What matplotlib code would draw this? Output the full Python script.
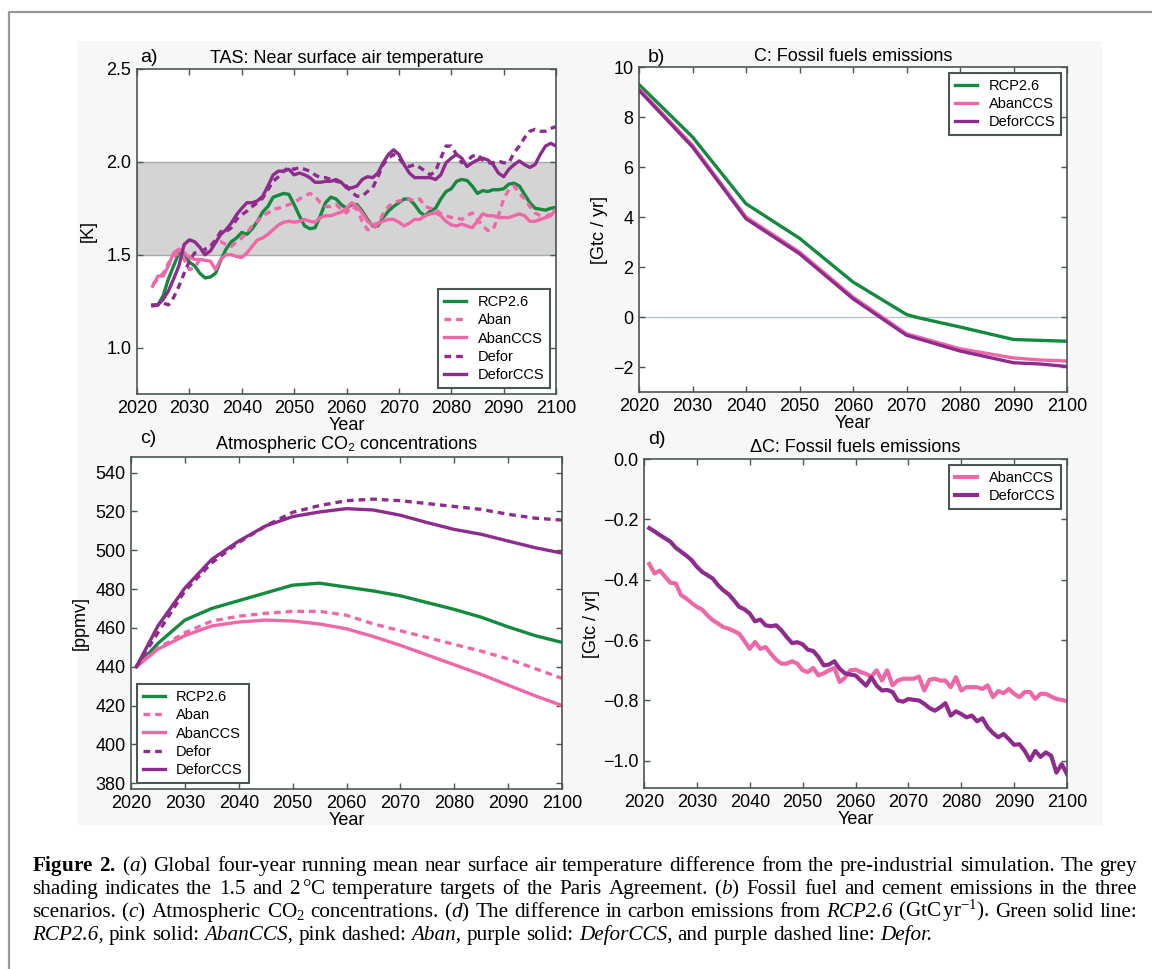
import matplotlib
matplotlib.use("Agg")
import matplotlib.pyplot as plt
from matplotlib.lines import Line2D
from matplotlib.patches import Rectangle

plt.rcParams["font.family"] = ["Liberation Sans", "DejaVu Sans"]
plt.rcParams["mathtext.fontset"] = "custom"
plt.rcParams["mathtext.rm"] = "Liberation Serif"
plt.rcParams["mathtext.it"] = "Liberation Serif:italic"
plt.rcParams["mathtext.bf"] = "Liberation Serif:bold"

W, H = 1152, 969
GREEN = "#138a3e"
PINK = "#f067a8"
PURPLE = "#8e2c8e"
SPINE = "#4a5656"

# ---- a) near surface air temperature, 4-yr running mean [K]
YEARS_A = list(range(2023, 2101))
RCP_A = [1.23, 1.23, 1.28, 1.37, 1.44, 1.51, 1.51, 1.46, 1.44, 1.40,
         1.375, 1.38, 1.40, 1.47, 1.53, 1.57, 1.59, 1.62, 1.61, 1.64,
         1.68, 1.73, 1.76, 1.81, 1.82, 1.83, 1.825, 1.77, 1.71, 1.655,
         1.64, 1.645, 1.71, 1.78, 1.81, 1.80, 1.77, 1.75, 1.77, 1.77,
         1.735, 1.69, 1.655, 1.655, 1.70, 1.735, 1.76, 1.78, 1.80, 1.80,
         1.77, 1.73, 1.71, 1.735, 1.75, 1.80, 1.84, 1.855, 1.895, 1.905,
         1.90, 1.87, 1.83, 1.845, 1.84, 1.85, 1.85, 1.855, 1.88, 1.885,
         1.87, 1.825, 1.78, 1.75, 1.745, 1.74, 1.75, 1.755]
ABAN_A = [1.34, 1.37, 1.40, 1.455, 1.49, 1.51, 1.475, 1.42, 1.43, 1.475,
          1.51, 1.545, 1.57, 1.57, 1.555, 1.545, 1.57, 1.59, 1.62, 1.655,
          1.68, 1.71, 1.725, 1.745, 1.75, 1.76, 1.77, 1.78, 1.80, 1.815,
          1.83, 1.815, 1.78, 1.76, 1.76, 1.77, 1.745, 1.725, 1.76, 1.745,
          1.68, 1.635, 1.635, 1.665, 1.72, 1.76, 1.78, 1.79, 1.79, 1.80,
          1.79, 1.80, 1.76, 1.75, 1.745, 1.72, 1.71, 1.70, 1.70, 1.69,
          1.71, 1.725, 1.69, 1.655, 1.63, 1.635, 1.71, 1.80, 1.85, 1.87,
          1.83, 1.80, 1.76, 1.725, 1.71, 1.70, 1.725, 1.735]
ABANCCS_A = [1.33, 1.385, 1.385, 1.44, 1.51, 1.53, 1.51, 1.485, 1.475, 1.475,
             1.47, 1.465, 1.42, 1.475, 1.50, 1.50, 1.49, 1.485, 1.51, 1.545,
             1.58, 1.59, 1.61, 1.635, 1.66, 1.675, 1.68, 1.675, 1.68, 1.69,
             1.68, 1.675, 1.70, 1.71, 1.71, 1.72, 1.73, 1.75, 1.78, 1.76,
             1.725, 1.68, 1.66, 1.67, 1.68, 1.69, 1.69, 1.675, 1.655, 1.67,
             1.69, 1.69, 1.71, 1.72, 1.725, 1.71, 1.68, 1.66, 1.655, 1.665,
             1.655, 1.645, 1.68, 1.72, 1.71, 1.71, 1.70, 1.70, 1.70, 1.71,
             1.72, 1.71, 1.68, 1.68, 1.69, 1.70, 1.71, 1.745]
DEFOR_A = [1.225, 1.23, 1.24, 1.23, 1.27, 1.33, 1.40, 1.465, 1.51, 1.51,
           1.53, 1.545, 1.58, 1.625, 1.625, 1.645, 1.69, 1.715, 1.735, 1.76,
           1.78, 1.805, 1.85, 1.895, 1.92, 1.95, 1.97, 1.96, 1.97, 1.96,
           1.95, 1.93, 1.915, 1.915, 1.905, 1.895, 1.89, 1.87, 1.835, 1.815,
           1.815, 1.84, 1.86, 1.92, 1.985, 2.02, 2.04, 2.02, 1.985, 1.975,
           1.985, 1.97, 1.95, 1.93, 1.95, 2.02, 2.085, 2.085, 2.04, 1.995,
           2.005, 2.03, 2.04, 2.01, 1.995, 1.995, 2.005, 1.995, 1.995, 2.05,
           2.085, 2.13, 2.165, 2.175, 2.165, 2.165, 2.18, 2.19]
DEFORCCS_A = [1.225, 1.23, 1.26, 1.305, 1.37, 1.44, 1.555, 1.58, 1.57, 1.54,
              1.50, 1.52, 1.565, 1.61, 1.635, 1.67, 1.715, 1.75, 1.78, 1.78,
              1.79, 1.815, 1.87, 1.93, 1.95, 1.95, 1.96, 1.93, 1.94, 1.93,
              1.915, 1.89, 1.89, 1.895, 1.895, 1.905, 1.89, 1.86, 1.86, 1.87,
              1.905, 1.92, 1.915, 1.94, 1.995, 2.04, 2.065, 2.04, 1.985, 1.94,
              1.915, 1.915, 1.915, 1.915, 1.905, 1.93, 1.995, 2.02, 2.04, 2.02,
              1.975, 1.995, 2.01, 2.02, 2.01, 1.985, 1.94, 1.92, 1.96, 1.985,
              2.005, 1.985, 1.97, 1.985, 2.04, 2.085, 2.10, 2.085]

# ---- b) fossil fuel emissions [GtC/yr]
YEARS_B_RCP = [2020, 2030, 2040, 2050, 2060, 2070, 2072, 2080, 2090, 2100]
RCP_B = [9.3, 7.2, 4.53, 3.15, 1.4, 0.1, -0.02, -0.4, -0.9, -0.97]
YEARS_B = [2020, 2030, 2040, 2050, 2060, 2070, 2080, 2090, 2095, 2100]
ABANCCS_B = [9.13, 6.87, 4.0, 2.6, 0.8, -0.67, -1.27, -1.64, -1.72, -1.76]
DEFORCCS_B = [9.07, 6.8, 3.93, 2.53, 0.73, -0.73, -1.36, -1.83, -1.88, -1.98]

# ---- c) atmospheric CO2 [ppmv]
YEARS_C = [2021, 2025, 2030, 2035, 2040, 2045, 2050, 2055, 2060, 2065, 2070,
           2075, 2080, 2085, 2090, 2095, 2100]
RCP_C = [440, 452, 464, 470, 474, 478, 482, 483, 481, 479, 476.5, 473,
         469.5, 465.5, 460.5, 456, 452.5]
ABAN_C = [440, 449.5, 457.5, 463.5, 466, 467.5, 468.5, 468.5, 466.5, 462,
          458.5, 455, 451.5, 448, 444, 439, 434]
ABANCCS_C = [440, 449, 456, 461, 463, 464, 463.5, 462, 459.5, 455.5, 451,
             446, 441, 436, 430.5, 425, 420]
DEFOR_C = [440, 457.5, 479, 493.5, 504, 512.5, 519.5, 523, 525.5, 526.3,
           525.5, 524, 522.5, 521, 518.5, 516.5, 515.5]
DEFORCCS_C = [440, 461, 480.5, 495.3, 504.7, 512.5, 517.3, 519.7, 521.4,
              520.7, 518, 514.2, 510.7, 508.2, 504.7, 501.3, 498.5]

# ---- d) difference from RCP2.6 [GtC/yr]
YEARS_D = list(range(2021, 2101))
ABANCCS_D = [-0.348, -0.379, -0.37, -0.39, -0.41, -0.412, -0.451, -0.462, -0.477, -0.49,
             -0.499, -0.518, -0.534, -0.545, -0.557, -0.562, -0.57, -0.579, -0.603, -0.629,
             -0.606, -0.629, -0.623, -0.645, -0.665, -0.678, -0.678, -0.67, -0.678, -0.70,
             -0.706, -0.692, -0.717, -0.71, -0.70, -0.692, -0.739, -0.725, -0.70, -0.698,
             -0.706, -0.712, -0.721, -0.70, -0.734, -0.70, -0.75, -0.734, -0.728, -0.728,
             -0.728, -0.721, -0.767, -0.731, -0.728, -0.734, -0.734, -0.756, -0.723, -0.767,
             -0.756, -0.756, -0.756, -0.762, -0.75, -0.789, -0.769, -0.776, -0.762, -0.778,
             -0.789, -0.772, -0.772, -0.795, -0.778, -0.778, -0.787, -0.795, -0.798, -0.803]
DEFORCCS_D = [-0.229, -0.24, -0.252, -0.263, -0.274, -0.294, -0.307, -0.32, -0.335, -0.357,
              -0.374, -0.385, -0.396, -0.418, -0.435, -0.448, -0.468, -0.49, -0.498, -0.512,
              -0.538, -0.532, -0.551, -0.554, -0.551, -0.568, -0.59, -0.61, -0.607, -0.614,
              -0.632, -0.636, -0.656, -0.684, -0.681, -0.67, -0.695, -0.71, -0.714, -0.717,
              -0.734, -0.751, -0.723, -0.751, -0.767, -0.765, -0.772, -0.80, -0.804, -0.795,
              -0.798, -0.80, -0.811, -0.825, -0.834, -0.823, -0.809, -0.85, -0.836, -0.845,
              -0.856, -0.85, -0.869, -0.859, -0.889, -0.908, -0.922, -0.911, -0.928, -0.947,
              -0.945, -0.967, -0.998, -0.967, -0.987, -0.972, -0.983, -1.039, -1.011, -1.044]

XTICKS = [2020, 2030, 2040, 2050, 2060, 2070, 2080, 2090, 2100]

# words starting with "*" are set in italic
CAPTION = [
    r"$\mathbf{Figure}$ $\mathbf{2.}$ ($\mathit{a}$) Global four-year running mean near surface air temperature difference from the pre-industrial simulation. The grey",
    r"shading indicates the 1.5 and 2$\,$°C temperature targets of the Paris Agreement. ($\mathit{b}$) Fossil fuel and cement emissions in the three",
    r"scenarios. ($\mathit{c}$) Atmospheric CO$_\mathrm{2}$ concentrations. ($\mathit{d}$) The difference in carbon emissions from *RCP2.6 (GtC$\,$yr$^{\mathrm{-1}}$). Green solid line:",
    r"*RCP2.6, pink solid: *AbanCCS, pink dashed: *Aban, purple solid: *DeforCCS, and purple dashed line: *Defor.",
]
CAP_BASE = [871, 894, 917, 940]
CAP_X0, CAP_X1 = 32, 1137

DASH = (0, (2, 1.5))

fig = plt.figure(figsize=(W / 100, H / 100), dpi=100)
fig.patches.append(Rectangle((77 / W, 1 - 825 / H), (1102 - 77) / W, (825 - 41) / H,
                             transform=fig.transFigure, facecolor="#f7f7f7",
                             edgecolor="none", zorder=-10))
fig.lines.append(Line2D([9 / W, 9 / W, 1.0], [0.0, 1 - 12 / H, 1 - 12 / H],
                        transform=fig.transFigure, color="#999999", lw=1.6))


def px_axes(l, t, r, b):
    return fig.add_axes([l / W, 1 - b / H, (r - l) / W, (b - t) / H])


def style(ax, ylab, ylab_x):
    ax.set_facecolor("white")
    for s in ax.spines.values():
        s.set_color(SPINE)
        s.set_linewidth(1.2)
    ax.tick_params(direction="in", top=True, right=True, length=4, width=1,
                   color=SPINE, labelsize=13, pad=4)
    ax.set_xlim(2020, 2100)
    ax.set_xticks(XTICKS)
    ax.set_xlabel("Year", fontsize=13, labelpad=0)
    ax.set_ylabel(ylab, fontsize=13)
    ax.yaxis.set_label_coords(ylab_x, 0.5)


def legend(ax, loc):
    leg = ax.legend(loc=loc, fontsize=10.5, handlelength=1.5, handletextpad=0.8,
                    labelspacing=0.3, borderpad=0.4, borderaxespad=0.4,
                    fancybox=False, framealpha=1)
    leg.get_frame().set_edgecolor(SPINE)
    leg.get_frame().set_linewidth(1.5)


lw = 2.4

# a)
ax = px_axes(137, 69, 556, 394)
ax.axhspan(1.5, 2.0, facecolor="#d4d4d4", edgecolor="#a4acac", lw=1, zorder=0)
ax.plot(YEARS_A, RCP_A, color=GREEN, lw=lw, label="RCP2.6")
ax.plot(YEARS_A, ABAN_A, color=PINK, lw=lw, ls=DASH, label="Aban")
ax.plot(YEARS_A, ABANCCS_A, color=PINK, lw=lw, label="AbanCCS")
ax.plot(YEARS_A, DEFOR_A, color=PURPLE, lw=lw, ls=DASH, label="Defor")
ax.plot(YEARS_A, DEFORCCS_A, color=PURPLE, lw=lw, label="DeforCCS")
ax.set_ylim(0.75, 2.5)
ax.set_yticks([1.0, 1.5, 2.0, 2.5])
style(ax, "[K]", -0.095)
ax.set_title("TAS: Near surface air temperature", fontsize=13, pad=4)
legend(ax, "lower right")

# b)
ax = px_axes(639, 67, 1067, 392)
ax.axhline(0, color="#b4c4cc", lw=1, zorder=0)
ax.plot(YEARS_B_RCP, RCP_B, color=GREEN, lw=lw, label="RCP2.6")
ax.plot(YEARS_B, ABANCCS_B, color=PINK, lw=lw, label="AbanCCS")
ax.plot(YEARS_B, DEFORCCS_B, color=PURPLE, lw=lw, label="DeforCCS")
ax.set_ylim(-3, 10)
ax.set_yticks([-2, 0, 2, 4, 6, 8, 10])
style(ax, "[Gtc / yr]", -0.072)
ax.set_title("C: Fossil fuels emissions", fontsize=13, pad=4)
legend(ax, "upper right")

# c)
ax = px_axes(131, 457, 562, 789)
ax.plot(YEARS_C, RCP_C, color=GREEN, lw=lw, label="RCP2.6")
ax.plot(YEARS_C, ABAN_C, color=PINK, lw=lw, ls=DASH, label="Aban")
ax.plot(YEARS_C, ABANCCS_C, color=PINK, lw=lw, label="AbanCCS")
ax.plot(YEARS_C, DEFOR_C, color=PURPLE, lw=lw, ls=DASH, label="Defor")
ax.plot(YEARS_C, DEFORCCS_C, color=PURPLE, lw=lw, label="DeforCCS")
ax.set_ylim(377, 548)
ax.set_yticks(list(range(380, 541, 20)))
style(ax, "[ppmv]", -0.097)
ax.set_title("Atmospheric CO\u2082 concentrations", fontsize=13, pad=6)
legend(ax, "lower left")

# d)
ax = px_axes(644, 459, 1067, 788)
ax.plot(YEARS_D, ABANCCS_D, color=PINK, lw=3.0, label="AbanCCS")
ax.plot(YEARS_D, DEFORCCS_D, color=PURPLE, lw=3.0, label="DeforCCS")
ax.set_ylim(-1.09, 0.0)
ax.set_yticks([-1.0, -0.8, -0.6, -0.4, -0.2, 0.0])
style(ax, "[Gtc / yr]", -0.104)
ax.set_title("\u0394C: Fossil fuels emissions", fontsize=13, pad=5)
legend(ax, "upper right")

for lab, x, y in [("a)", 140, 62), ("b)", 648, 62), ("c)", 140, 443), ("d)", 648, 444)]:
    fig.text(x / W, 1 - y / H, lab, fontsize=14, va="baseline", ha="left")


def cap_word(w):
    if w.startswith("*"):
        return fig.text(0, 0, w[1:], fontsize=14, family="Liberation Serif",
                        style="italic", va="baseline")
    return fig.text(0, 0, w, fontsize=14, family="Liberation Serif", va="baseline")


# caption, justified like the journal text
renderer = fig.canvas.get_renderer()
rows = [[cap_word(w) for w in line.split(" ")] for line in CAPTION]
space = 0.25 * 14 * 100 / 72
natural = [sum(t.get_window_extent(renderer).width for t in row) + space * (len(row) - 1)
           for row in rows[:3]]
size = 14 * (CAP_X1 - CAP_X0) / max(natural)
for i, row in enumerate(rows):
    for t in row:
        t.set_fontsize(size)
    widths = [t.get_window_extent(renderer).width for t in row]
    if i < len(rows) - 1:
        gap = (CAP_X1 - CAP_X0 - sum(widths)) / (len(row) - 1)
    else:
        gap = 0.25 * size * 100 / 72
    x = CAP_X0
    for t, w in zip(row, widths):
        t.set_position((x / W, 1 - CAP_BASE[i] / H))
        x += w + gap

fig.savefig("out.png", dpi=100)
